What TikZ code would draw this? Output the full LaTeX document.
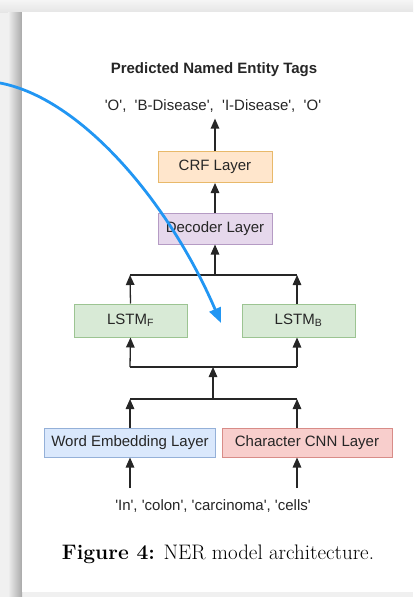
\documentclass[tikz,border=0pt]{standalone}
\usepackage{fontspec}
\usepackage{xcolor}
\usepackage{tikz}
\usetikzlibrary{arrows.meta,positioning}
\newfontfamily\diagfont{Liberation Sans}
\definecolor{pointerblue}{RGB}{33, 150, 243}
\definecolor{crffill}{HTML}{FFE6CC}
\definecolor{crfline}{HTML}{E8B96A}
\definecolor{decfill}{HTML}{E6D8EC}
\definecolor{decline}{HTML}{B59BC4}
\definecolor{lstmfill}{HTML}{D8EAD6}
\definecolor{lstmline}{HTML}{9CC492}
\definecolor{wordfill}{HTML}{DAE8FC}
\definecolor{wordline}{HTML}{94B0D8}
\definecolor{charfill}{HTML}{F8CECC}
\definecolor{charline}{HTML}{D88C88}
\newcommand{\sq}[1]{\textquotesingle#1\textquotesingle}

\begin{document}
\begin{tikzpicture}[
    x=1pt, y=-1pt,
    every node/.style={align=center},
    layer/.style={rectangle, minimum height=31pt, inner sep=2pt, text centered, line width=1pt, text=black!85, font=\diagfont\fontsize{15}{18}\selectfont},
    label/.style={inner sep=2pt, text=black!85, font=\diagfont\fontsize{15}{18}\selectfont},
    arrow/.style={draw=black!85, line width=1.3pt, -{Triangle[length=10pt,width=8.5pt]}},
    link/.style={draw=black!85, line width=1.3pt},
    pointer/.style={draw=pointerblue, line width=2.8pt, -{Triangle[length=15pt,width=12pt]}}
]
\useasboundingbox (0,0) rectangle (413,597);

% Page and its shadow
\fill[black!6] (0,0) rectangle (413,597);
\shade[top color=black!4, bottom color=black!10] (0,0) rectangle (413,12);
\shade[left color=black!6, right color=black!34] (8,12) rectangle (22,597);
\fill[white] (22,12) rectangle (413,592);

% Layers
\node[layer, minimum width=114pt, fill=crffill, draw=crfline] (crf) at (215,167) {CRF Layer};
\node[layer, minimum width=114pt, fill=decfill, draw=decline] (dec) at (215,228.5) {Decoder Layer};
\node[layer, minimum width=113pt, minimum height=33pt, fill=lstmfill, draw=lstmline] (lstmF) at (130.5,320.5) {LSTM\textsubscript{F}};
\node[layer, minimum width=113pt, minimum height=33pt, fill=lstmfill, draw=lstmline] (lstmB) at (298.5,320.5) {LSTM\textsubscript{B}};
\node[layer, minimum width=171pt, minimum height=29pt, fill=wordfill, draw=wordline] (word) at (130,442.5) {Word Embedding Layer};
\node[layer, minimum width=170pt, minimum height=29pt, fill=charfill, draw=charline] (char) at (307,442.5) {Character CNN Layer};

% Texts
\node[label, font=\diagfont\bfseries\fontsize{15}{18}\selectfont] (title) at (214,70) {Predicted Named Entity Tags};
\node[label] (tags) at (213,106) {\sq{O}, \ \sq{B-Disease}, \ \sq{I-Disease}, \ \sq{O}};
\node[label] (tokens) at (213,506) {\sq{In}, \sq{colon}, \sq{carcinoma}, \sq{cells}};
\node[font=\fontsize{21}{25}\selectfont] (caption) at (218,554) {\textbf{Figure 4:} NER model architecture.};

% Junctions
\coordinate (mergeL) at (130,275);
\coordinate (mergeC) at (215,275);
\coordinate (mergeR) at (297,275);
\coordinate (splitL) at (130,367);
\coordinate (splitC) at (213,367);
\coordinate (splitR) at (297,367);
\coordinate (joinL) at (130,399);
\coordinate (joinC) at (213,399);
\coordinate (joinR) at (297,399);
\coordinate (inL) at (130,488);
\coordinate (inR) at (297,488);

% Arrows
\draw[arrow, shorten >=4pt] (crf.north) -- (crf.north |- tags.south);
\draw[arrow] (dec.north) -- (crf.south);
\draw[arrow] (mergeC) -- (dec.south);
\draw[link] (mergeL) -- (mergeR);
\draw[arrow] (lstmF.north) -- (mergeL);
\draw[arrow] (lstmF.north -| mergeR) -- (mergeR);
\draw[arrow] (splitL) -- (lstmF.south);
\draw[arrow] (splitR) -- (lstmB.south -| splitR);
\draw[link] (splitL) -- (splitR);
\draw[arrow] (joinC) -- (splitC);
\draw[link] (joinL) -- (joinR);
\draw[arrow] (word.north) -- (joinL);
\draw[arrow] (char.north -| joinR) -- (joinR);
\draw[arrow] (inL) -- (word.south);
\draw[arrow] (inR) -- (char.south -| inR);

% Pointer over the page
\coordinate (pointerstart) at (0,83);
\coordinate (pointertip) at (221,323);
\draw[pointer] (pointerstart) .. controls (80,98) and (168,200) .. (pointertip);

\end{tikzpicture}
\end{document}
